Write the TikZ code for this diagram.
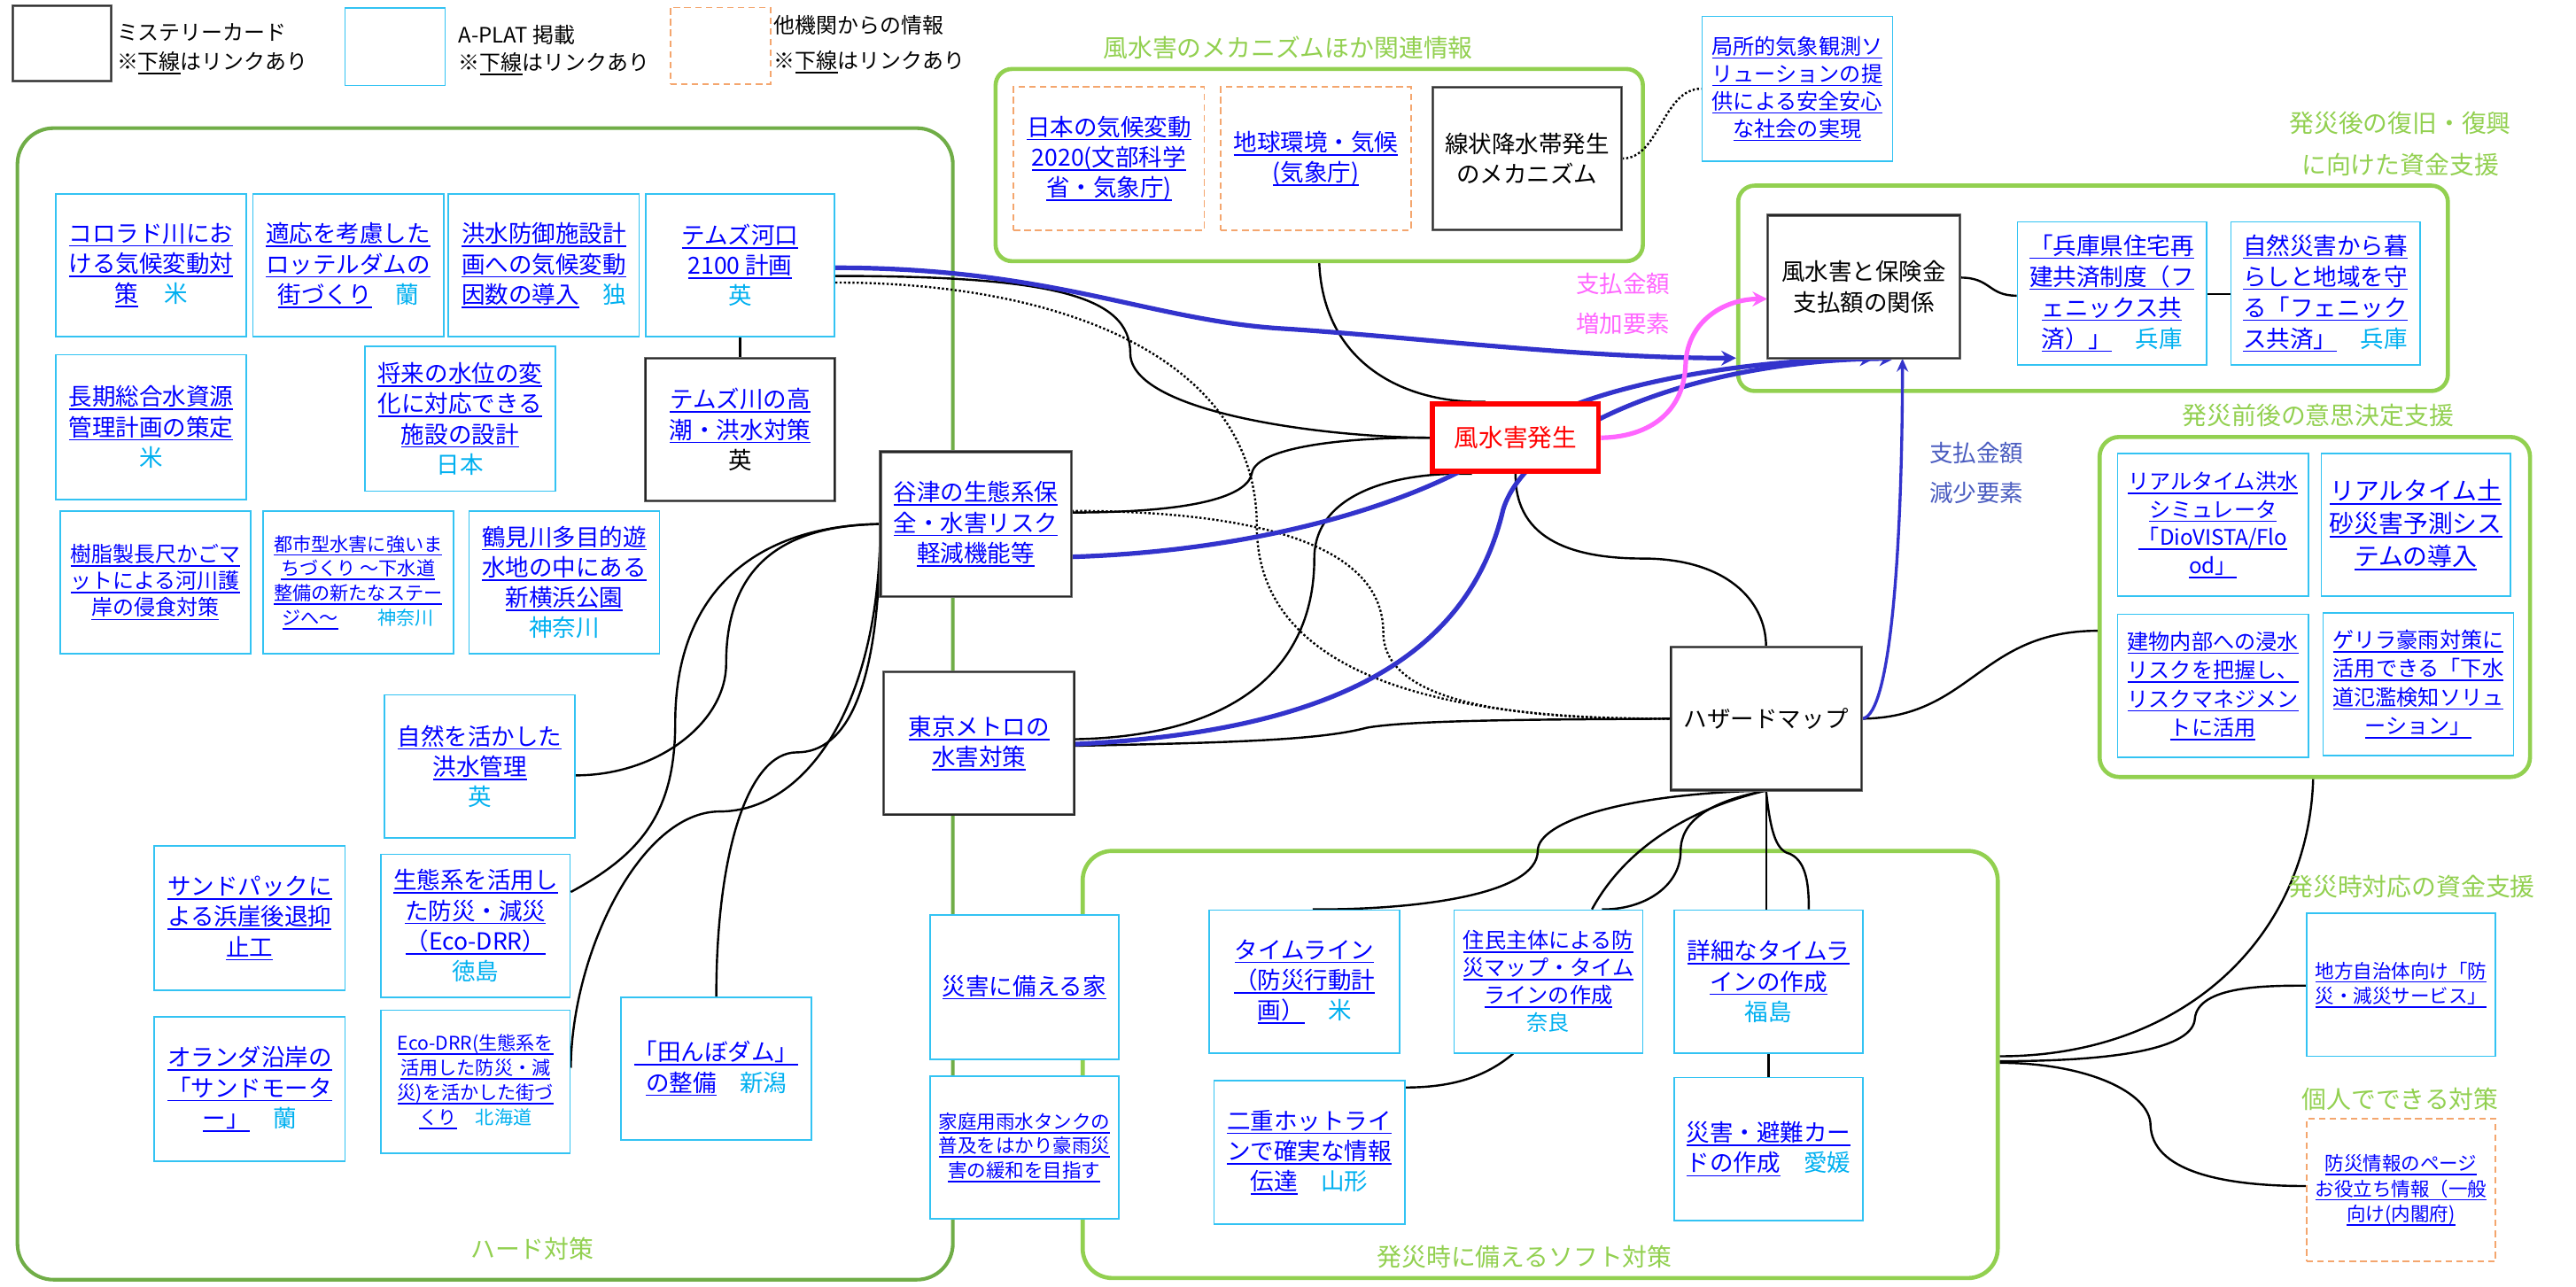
\documentclass[tikz,border=0pt]{standalone}
\usepackage{fontspec}
\setmainfont{Noto Sans CJK JP}
\usetikzlibrary{arrows.meta}
\definecolor{lk}{HTML}{0000FF}
\definecolor{cy}{HTML}{00B0F0}
\definecolor{ap}{HTML}{33C3F3}
\definecolor{gr}{HTML}{92D050}
\definecolor{gd}{HTML}{70AD47}
\definecolor{og}{HTML}{F4A66E}
\definecolor{pk}{HTML}{FF66FF}
\definecolor{ab}{HTML}{3333CC}
\definecolor{db}{HTML}{4A5CC0}
\newsavebox\ulbox
\newcommand\ulk[1]{\sbox\ulbox{#1}\rlap{\rule[-2.8pt]{\wd\ulbox}{0.9pt}}\usebox\ulbox}
\newcommand\rg[1]{{\color{cy}#1}}
\newcommand\fsz[2]{\fontsize{#1}{#2}\selectfont}
\pgfdeclarelayer{bg}\pgfdeclarelayer{mid}\pgfsetlayers{bg,mid,main}
\begin{document}
\begin{tikzpicture}[x=1pt,y=-1pt,
 bx/.style={rectangle, fill=white, inner sep=0pt, align=center, minimum width=116pt, minimum height=87pt, font=\fsz{14.3}{18.5}},
 aplat/.style={bx, draw=ap, line width=0.9pt, text=lk},
 myst/.style={bx, draw=gray!85!black, line width=0.5pt, double=black!85, double distance=0.7pt},
 oth/.style={bx, draw=og, dash pattern=on 4pt off 2.5pt, line width=1pt, text=lk},
 grp/.style={draw=gr, line width=2.5pt, rounded corners=10pt, inner sep=0pt},
 glab/.style={text=gr, font=\fsz{15}{19}, inner sep=0pt},
 cn/.style={draw=black, line width=1.3pt},
 dts/.style={draw=black, line width=1.3pt, dash pattern=on 1.3pt off 1.3pt},
 barr/.style={draw=ab, line width=2.8pt, -{Stealth[length=9pt,width=9pt]}},
]
\useasboundingbox (0,0) rectangle (1568,783);

% ---------- legend ----------
\node[myst, minimum width=60pt, minimum height=46pt] (lg1) at (37.8,26.5) {};
\node[anchor=west, align=left, font=\fsz{12.9}{18}, inner sep=0pt] (lt1) at (71,29.6) {ミステリーカード\\※\ulk{下線}はリンクあり};
\node[aplat, minimum width=61pt, minimum height=47pt] (lg2) at (240.5,28.5) {};
\node[anchor=west, align=left, font=\fsz{12.9}{17}, inner sep=0pt] (lt2) at (279,30.5) {A-PLAT 掲載\\※\ulk{下線}はリンクあり};
\node[oth, minimum width=61pt, minimum height=46.5pt] (lg3) at (438.5,27.8) {};
\node[anchor=west, align=left, font=\fsz{12.9}{21.5}, inner sep=0pt] (lt3) at (471,27) {他機関からの情報\\※\ulk{下線}はリンクあり};

% ---------- group labels ----------
\node[glab] (l1) at (784,29) {風水害のメカニズムほか関連情報};
\node[glab, align=center, font=\fsz{15}{25}] (l2) at (1461,87.5) {発災後の復旧・復興\\に向けた資金支援};
\node[glab] (l3) at (1411,253) {発災前後の意思決定支援};
\node[glab] (l4) at (1468,540) {発災時対応の資金支援};
\node[glab] (l5) at (1461,669) {個人でできる対策};
\node[glab] (l6) at (324,760) {ハード対策};
\node[glab] (l7) at (928,765) {発災時に備えるソフト対策};

% ---------- hard measures ----------
\node[aplat] (b1) at (92,161.5) {\ulk{コロラド川にお}\\\ulk{ける気候変動対}\\\ulk{策}\hspace{1.1em}\rg{米}};
\node[aplat] (b2) at (212,161.5) {\ulk{適応を考慮した}\\\ulk{ロッテルダムの}\\\ulk{街づくり}\hspace{1em}\rg{蘭}};
\node[aplat] (b3) at (331,161.5) {\ulk{洪水防御施設計}\\\ulk{画への気候変動}\\\ulk{因数の導入}\hspace{1em}\rg{独}};
\node[aplat, minimum width=115pt] (b4) at (450.5,161.5) {\ulk{テムズ河口}\\\ulk{2100 計画}\\\rg{英}};
\node[aplat, minimum height=88pt] (b5) at (92,260) {\ulk{長期総合水資源}\\\ulk{管理計画の策定}\\\rg{米}};
\node[aplat, minimum height=88pt] (b6) at (280,255) {\ulk{将来の水位の変}\\\ulk{化に対応できる}\\\ulk{施設の設計}\\\rg{日本}};
\node[myst, minimum width=115pt, text=lk] (m1) at (450.5,261.5) {\ulk{テムズ川の高}\\\ulk{潮・洪水対策}\\{\color{black}英}};
\node[aplat, font=\fsz{12.9}{16.2}] (b7) at (94.5,354.5) {\ulk{樹脂製長尺かごマ}\\\ulk{ットによる河川護}\\\ulk{岸の侵食対策}};
\node[aplat, font=\fsz{11.4}{15}] (b8) at (218,354.5) {\ulk{都市型水害に強いま}\\\ulk{ちづくり ～下水道}\\\ulk{整備の新たなステー}\\\ulk{ジへ～}\hspace{2.1em}\rg{神奈川}};
\node[aplat] (b9) at (343.5,354.5) {\ulk{鶴見川多目的遊}\\\ulk{水地の中にある}\\\ulk{新横浜公園}\\\rg{神奈川}};
\node[aplat] (b10) at (292,466.5) {\ulk{自然を活かした}\\\ulk{洪水管理}\\\rg{英}};
\node[aplat, minimum height=88pt] (b11) at (152,559) {\ulk{サンドパックに}\\\ulk{よる浜崖後退抑}\\\ulk{止工}};
\node[aplat, minimum width=115pt] (b12) at (289.5,563.5) {\ulk{生態系を活用し}\\\ulk{た防災・減災}\\\ulk{（Eco-DRR）}\\\rg{徳島}};
\node[aplat, minimum height=88pt] (b13) at (152,663) {\ulk{オランダ沿岸の}\\\ulk{「サンドモータ}\\\ulk{ー」}\hspace{1em}\rg{蘭}};
\node[aplat, minimum width=115pt, font=\fsz{11.4}{15.2}] (b14) at (289.5,658.5) {\ulk{Eco-DRR(生態系を}\\\ulk{活用した防災・減}\\\ulk{災)を活かした街づ}\\\ulk{くり}\hspace{1em}\rg{北海道}};
\node[aplat] (b15) at (436,650.5) {\ulk{「田んぼダム」}\\\ulk{の整備}\hspace{1em}\rg{新潟}};
\node[myst, text=lk, minimum height=88pt] (m2) at (594,319) {\ulk{谷津の生態系保}\\\ulk{全・水害リスク}\\\ulk{軽減機能等}};
\node[myst, text=lk] (m3) at (596,452.5) {\ulk{東京メトロの}\\\ulk{水害対策}};

% ---------- mechanism ----------
\node[oth] (o1) at (675,96.5) {\ulk{日本の気候変動}\\\ulk{2020(文部科学}\\\ulk{省・気象庁)}};
\node[oth] (o2) at (801,96.5) {\ulk{地球環境・気候}\\\ulk{(気象庁)}};
\node[myst, minimum width=115pt] (m4) at (929.5,96.5) {線状降水帯発生\\のメカニズム};
\node[aplat, minimum height=88pt, font=\fsz{13}{16.7}] (b16) at (1094,54) {\ulk{局所的気象観測ソ}\\\ulk{リューションの提}\\\ulk{供による安全安心}\\\ulk{な社会の実現}};

% ---------- recovery ----------
\node[myst, minimum width=117pt, font=\fsz{14.3}{19}] (m5) at (1134.5,174.5) {風水害と保険金\\支払額の関係};
\node[aplat, minimum width=115pt, font=\fsz{14.3}{18.9}] (b17) at (1285.5,178.5) {\ulk{「兵庫県住宅再}\\\ulk{建共済制度（フ}\\\ulk{ェニックス共}\\\ulk{済）」}\hspace{1em}\rg{兵庫}};
\node[aplat, minimum width=115pt, font=\fsz{14.3}{18.9}] (b18) at (1415.5,178.5) {\ulk{自然災害から暮}\\\ulk{らしと地域を守}\\\ulk{る「フェニック}\\\ulk{ス共済」}\hspace{1em}\rg{兵庫}};

% ---------- centre ----------
\node[bx, draw=red, line width=3pt, text=red, minimum width=101pt, minimum height=41pt, font=\fsz{14.9}{18}] (r1) at (922.5,266.5) {風水害発生};
\node[myst] (m6) at (1075,437.5) {ハザードマップ};
\node[text=pk, font=\fsz{14.3}{24}, align=center, inner sep=0pt] (pl) at (988,185) {支払金額\\増加要素};
\node[text=db, font=\fsz{14.3}{24}, align=center, inner sep=0pt] (dl) at (1203,288) {支払金額\\減少要素};

% ---------- decision support ----------
\node[aplat, font=\fsz{13}{17}] (b19) at (1347,319.5) {\ulk{リアルタイム洪水}\\\ulk{シミュレータ}\\\ulk{「DioVISTA/Flo}\\\ulk{od」}};
\node[aplat, minimum width=115pt, font=\fsz{15}{19.8}] (b20) at (1470.5,319.5) {\ulk{リアルタイム土}\\\ulk{砂災害予測シス}\\\ulk{テムの導入}};
\node[aplat, font=\fsz{13}{17.5}] (b21) at (1347,417.5) {\ulk{建物内部への浸水}\\\ulk{リスクを把握し、}\\\ulk{リスクマネジメン}\\\ulk{トに活用}};
\node[aplat, font=\fsz{13}{17.5}] (b22) at (1472,416.5) {\ulk{ゲリラ豪雨対策に}\\\ulk{活用できる「下水}\\\ulk{道氾濫検知ソリュ}\\\ulk{ーション」}};

% ---------- soft measures ----------
\node[aplat, minimum width=115pt, minimum height=88pt] (b24) at (623.5,601) {\ulk{災害に備える家}};
\node[aplat, minimum width=115pt, font=\fsz{11.6}{14.8}] (b25) at (623.5,698.5) {\ulk{家庭用雨水タンクの}\\\ulk{普及をはかり豪雨災}\\\ulk{害の緩和を目指す}};
\node[aplat] (b26) at (794,597.5) {\ulk{タイムライン}\\\ulk{（防災行動計}\\\ulk{画）}\hspace{1em}\rg{米}};
\node[aplat, minimum width=115pt, font=\fsz{13}{16.7}] (b27) at (942.5,597.5) {\ulk{住民主体による防}\\\ulk{災マップ・タイム}\\\ulk{ラインの作成}\\\rg{奈良}};
\node[aplat, minimum width=115pt] (b28) at (1076.5,597.5) {\ulk{詳細なタイムラ}\\\ulk{インの作成}\\\rg{福島}};
\node[aplat] (b29) at (797,701.5) {\ulk{二重ホットライ}\\\ulk{ンで確実な情報}\\\ulk{伝達}\hspace{1em}\rg{山形}};
\node[aplat, minimum width=115pt] (b30) at (1076.5,699.5) {\ulk{災害・避難カー}\\\ulk{ドの作成}\hspace{1em}\rg{愛媛}};
\node[aplat, minimum width=115pt, font=\fsz{11.6}{15.3}] (b23) at (1461.5,599.5) {\ulk{地方自治体向け「防}\\\ulk{災・減災サービス」}};
\node[oth, minimum width=115pt, font=\fsz{11.6}{15.3}] (o3) at (1461.5,724.5) {\ulk{防災情報のページ}\\\ulk{お役立ち情報（一般}\\\ulk{向け(内閣府)}};

% ---------- groups ----------
\begin{pgfonlayer}{bg}
\fill[white] (0,0) rectangle (1568,783);
\node[grp, draw=gd, line width=2.2pt, rounded corners=22pt, minimum width=569.4pt, minimum height=701pt] (g1) at (295.3,428.5) {};
\node[grp, minimum width=394pt, minimum height=117pt] (g2) at (803,100.5) {};
\node[grp, minimum width=432pt, minimum height=125pt] (g3) at (1274,175.5) {};
\node[grp, rounded corners=12pt, minimum width=262pt, minimum height=207pt] (g4) at (1409,369.5) {};
\node[grp, rounded corners=18pt, minimum width=557pt, minimum height=260pt] (g5) at (937.5,648) {};
\end{pgfonlayer}

% ---------- connectors ----------
\begin{pgfonlayer}{mid}
\draw[cn] (b4.south) .. controls +(0,8) and +(0,-6) .. (m1.north);
% from Thames estuary
\draw[cn] (b4.east |- 0,168) .. controls (640,168) and (688,180) .. (688,215) .. controls (688,250) and (800,266) .. (r1.west);
\draw[dts] (b4.east |- 0,172) .. controls (650,172) and (765,220) .. (765,320) .. controls (765,420) and (900,438) .. (m6.west);
% from Yatsu
\draw[dts] (m2.east |- 0,311) .. controls (760,311) and (842,330) .. (842,385) .. controls (842,430) and (930,438) .. (m6.west);
\draw[cn] (m2.east |- 0,312) .. controls (735,312) and (760,300) .. (762,288) .. controls (765,272) and (820,266) .. (r1.west);
\draw[cn] (m2.west) .. controls (470,320) and (442,350) .. (442,404) .. controls (442,440) and (400,472) .. (b10.east |- 0,472);
\draw[cn] (m2.west) .. controls (460,320) and (411,360) .. (411,440) .. controls (411,495) and (390,520) .. (b12.east |- 0,543);
\draw[cn] (m2.west) .. controls (536,430) and (490,494) .. (438,494) .. controls (390,494) and (348,580) .. (b14.east |- 0,650);
\draw[cn] (m2.west) .. controls (536,420) and (515,458) .. (485,458) .. controls (455,458) and (436,520) .. (b15.north);
% mechanism group to disaster
\draw[cn] (g2.south -| 803,0) .. controls (806,225) and (860,246) .. (904,0 |- r1.north);
\draw[dts] (m4.east) .. controls (1010,97) and (1012,54) .. (b16.west);
% disaster to hazard map
\draw[cn] (r1.south) .. controls (922,330) and (960,340) .. (1000,340) .. controls (1050,340) and (1075,365) .. (m6.north);
% Tokyo Metro
\draw[cn] (m3.east |- 0,450) .. controls (760,448) and (800,400) .. (800,340) .. controls (800,300) and (850,287) .. (896,0 |- r1.south);
\draw[cn] (m3.east |- 0,454) .. controls (760,452) and (805,450) .. (832,443) .. controls (860,438) and (950,438) .. (m6.west);
% recovery group
\draw[cn] (m5.east |- 0,169) .. controls (1212,169) and (1210,180) .. (b17.west |- 0,180);
\draw[cn] (b17.east |- 0,179) -- (b18.west |- 0,179);
% hazard map fan
\draw[cn] (m6.south) .. controls (990,483) and (936,500) .. (936,518) .. controls (936,545) and (860,554) .. (799,0 |- b26.north);
\draw[cn] (m6.south) .. controls (1030,492) and (990,515) .. (969,0 |- b27.north);
\draw[cn] (m6.south) .. controls (1040,488) and (1023,500) .. (1023,518) .. controls (1023,540) and (1000,554) .. (975,0 |- b27.north);
\draw[cn] (m6.south) -- (m6.south |- b28.north);
\draw[cn] (m6.south) .. controls (1078,510) and (1082,518) .. (1090,520) .. controls (1100,525) and (1101,540) .. (1101,0 |- b28.north);
\draw[cn] (b27.south -| 921,0) .. controls (905,655) and (885,662) .. (b29.east |- 0,662);
\draw[cn] (b28.south) -- (b30.north);
% decision support & soft group
\draw[cn] (m6.east) .. controls (1200,437) and (1205,384) .. (g4.west |- 0,384);
\draw[cn] (g4.south -| 1408,0) .. controls (1405,570) and (1330,643) .. (g5.east |- 0,643);
\draw[cn] (g5.east |- 0,646) .. controls (1290,646) and (1335,638) .. (1336,620) .. controls (1338,600) and (1380,600) .. (b23.west |- 0,600);
\draw[cn] (g5.east |- 0,647) .. controls (1270,647) and (1309,665) .. (1309,685) .. controls (1310,712) and (1350,722) .. (o3.west |- 0,722);
% blue arrows
\draw[barr] (b4.east |- 0,163) .. controls (640,163) and (700,195) .. (780,200) .. controls (860,205) and (960,218) .. (g3.west |- 0,218);
\draw[barr] (m2.east |- 0,339) .. controls (780,335) and (880,300) .. (922,266) .. controls (960,235) and (1060,219) .. (1141,0 |- m5.south);
\draw[barr] (m3.east |- 0,453) .. controls (820,445) and (895,395) .. (915,310) .. controls (930,262) and (1030,219) .. (1153,0 |- m5.south);
\draw[draw=ab, line width=1.8pt, -{Stealth[length=8pt,width=7pt]}] (m6.east) .. controls (1152,437) and (1158,320) .. (1158,0 |- m5.south);
% pink arrow
\draw[draw=pk, line width=2.8pt, -{Stealth[length=9pt,width=9pt]}] (r1.east) .. controls (1005,266) and (1025,250) .. (1026,222) .. controls (1027,195) and (1050,182) .. (m5.west |- 0,182);
\end{pgfonlayer}
\end{tikzpicture}
\end{document}
